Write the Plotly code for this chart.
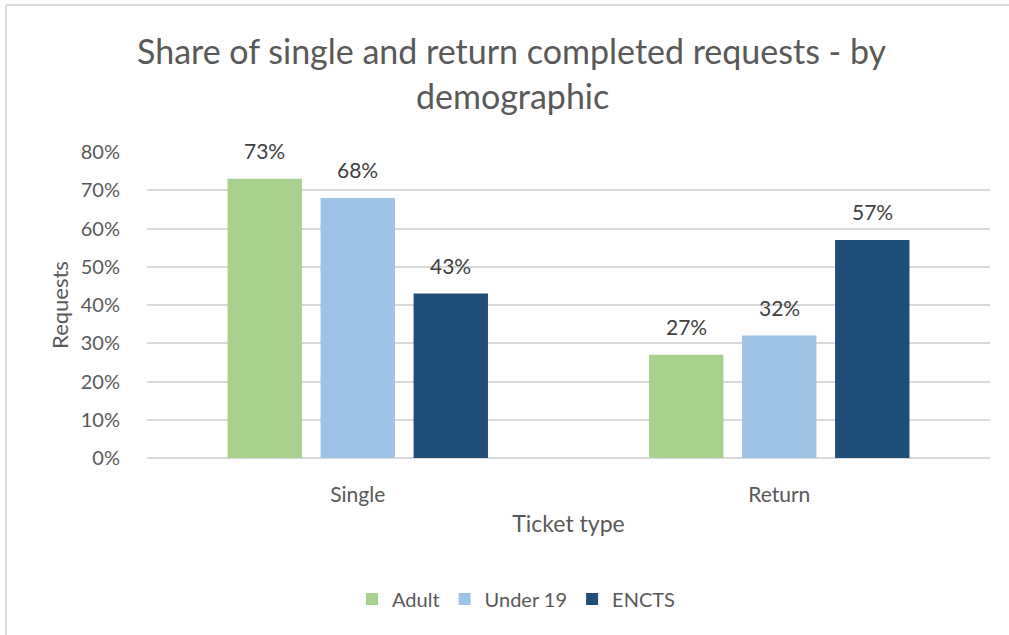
import plotly.graph_objects as go

# Ticket types and share of completed requests per demographic
ticket_types = ["Single", "Return"]
adult = [0.73, 0.27]
under_19 = [0.68, 0.32]
encts = [0.43, 0.57]

series_names = ["Adult", "Under 19", "ENCTS"]
series_values = [adult, under_19, encts]
series_colors = ["#A9D18E", "#9DC3E6", "#1F4E79"]

y_ticks = [0, 0.1, 0.2, 0.3, 0.4, 0.5, 0.6, 0.7, 0.8]

title_lines = ["Share of single and return completed requests - by", "demographic"]

W, H = 1009, 635
M_L, M_R, M_T, M_B = 147, 19, 152, 177
BARGAP = 0.338
FONT = "Lato"
TEXT_GREY = "#595959"

fig = go.Figure()
for name, vals, col in zip(series_names, series_values, series_colors):
    fig.add_trace(go.Bar(
        x=ticket_types, y=vals, name=name,
        marker=dict(color=col, line=dict(width=0)),
        hoverinfo="x+y+name",
    ))

plot_w = W - M_L - M_R
plot_h = H - M_T - M_B


def px_x(p):
    return (p - M_L) / plot_w


def px_y(p):
    return (H - M_B - p) / plot_h


# Value labels above each bar
slot_px = plot_w / len(ticket_types) * (1 - BARGAP) / len(series_names)
for i, vals in enumerate(series_values):
    for cat, v in zip(ticket_types, vals):
        fig.add_annotation(
            x=cat, y=v, xref="x", yref="y",
            text=f"{round(v * 100)}%", showarrow=False,
            xshift=(i - 1) * slot_px, yshift=14, yanchor="bottom",
            font=dict(family=FONT, size=21, color="#404040"),
        )

# Two-line chart title
for line, y_px in zip(title_lines, [50, 95]):
    fig.add_annotation(
        x=px_x(512), y=px_y(y_px), xref="paper", yref="paper",
        text=line, showarrow=False, xanchor="center", yanchor="middle",
        font=dict(family=FONT, size=34, color=TEXT_GREY),
    )

# Light frame along the top and left edges of the page
fig.add_shape(type="line", xref="paper", yref="paper",
              x0=px_x(6), x1=px_x(W + 5), y0=px_y(5), y1=px_y(5),
              line=dict(color="#d9d9d9", width=2))
fig.add_shape(type="line", xref="paper", yref="paper",
              x0=px_x(6), x1=px_x(6), y0=px_y(5), y1=px_y(H + 5),
              line=dict(color="#d9d9d9", width=2))

fig.update_layout(
    width=W, height=H,
    margin=dict(l=M_L, r=M_R, t=M_T, b=M_B),
    paper_bgcolor="white", plot_bgcolor="white",
    barmode="group", bargap=BARGAP, bargroupgap=0.2,
    font=dict(family=FONT, color=TEXT_GREY),
    xaxis=dict(
        showgrid=False, showline=False, zeroline=False,
        ticks="outside", ticklen=18, tickcolor="rgba(0,0,0,0)",
        tickfont=dict(family=FONT, size=21, color=TEXT_GREY),
        title=dict(text="Ticket type", standoff=10,
                   font=dict(family=FONT, size=23, color=TEXT_GREY)),
    ),
    yaxis=dict(
        range=[0, 0.8], tickvals=y_ticks, tickformat=".0%",
        showgrid=True, gridcolor="#d9d9d9", gridwidth=1.5,
        zeroline=True, zerolinecolor="#d9d9d9", zerolinewidth=1.5,
        showline=False,
        ticks="outside", ticklen=22, tickcolor="rgba(0,0,0,0)",
        tickfont=dict(family=FONT, size=20, color=TEXT_GREY),
        title=dict(text="Requests", standoff=6,
                   font=dict(family=FONT, size=22, color=TEXT_GREY)),
    ),
    legend=dict(
        orientation="h", x=px_x(516), xanchor="center",
        y=px_y(599), yanchor="middle",
        font=dict(family=FONT, size=20, color=TEXT_GREY),
        itemwidth=30, traceorder="normal",
    ),
    showlegend=True,
)

fig.write_html("out.html")
